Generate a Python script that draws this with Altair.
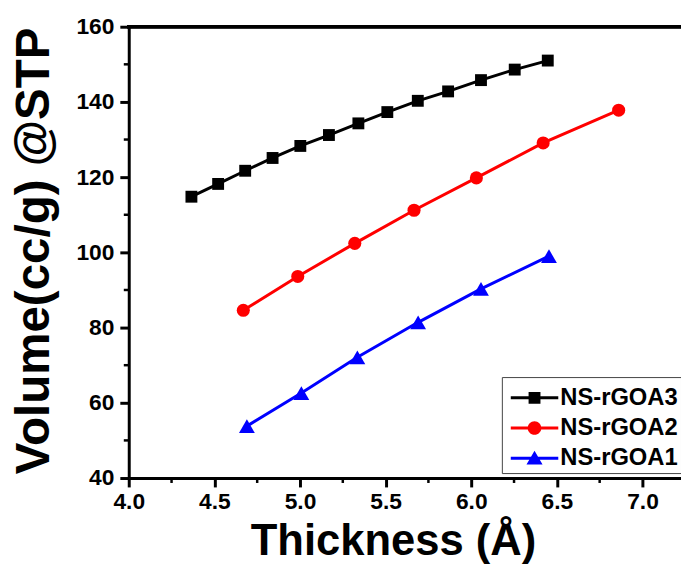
import altair as alt
import pandas as pd

# ---------------- data ----------------
series_names = ["NS-rGOA3", "NS-rGOA2", "NS-rGOA1"]
series_colors = ["#000000", "#ff0000", "#0000ff"]
series_shapes = ["square", "circle", "triangle-up"]
series_sizes = [144, 175, 256]

x_goa3 = [4.366, 4.522, 4.680, 4.840, 5.002, 5.169, 5.341, 5.510, 5.688, 5.865, 6.057, 6.254, 6.447]
y_goa3 = [114.8, 118.2, 121.7, 125.1, 128.3, 131.2, 134.3, 137.3, 140.3, 142.8, 145.8, 148.6, 151.0]

x_goa2 = [4.669, 4.987, 5.320, 5.666, 6.030, 6.420, 6.861]
y_goa2 = [84.6, 93.6, 102.4, 111.2, 119.8, 129.1, 137.8]

x_goa1 = [4.690, 5.008, 5.335, 5.690, 6.057, 6.454]
y_goa1 = [53.8, 62.6, 72.1, 81.4, 90.3, 99.0]

x_ticks = [4.0, 4.5, 5.0, 5.5, 6.0, 6.5, 7.0]
x_minor = [4.25, 4.75, 5.25, 5.75, 6.25, 6.75]
y_ticks = [40, 60, 80, 100, 120, 140, 160]
y_minor = [50, 70, 90, 110, 130, 150]

x_domain = [4.0, 7.225]
y_domain = [40, 160]

# legend symbols: line segment + marker (custom SVG paths)
legend_paths = [
    "M-4,-0.25H4V0.25H-4Z M-1,-1H1V1H-1Z",
    "M-4,-0.25H4V0.25H-4Z M-1.15,0A1.15,1.15,0,1,1,1.15,0A1.15,1.15,0,1,1,-1.15,0Z",
    "M-4,-0.25H4V0.25H-4Z M0,-1.25L1.35,1.05L-1.35,1.05Z",
]

# ---------------- tables ----------------
xs_all = [x_goa3, x_goa2, x_goa1]
ys_all = [y_goa3, y_goa2, y_goa1]
rows = []
for name, xs, ys in zip(series_names, xs_all, ys_all):
    for i, (xv, yv) in enumerate(zip(xs, ys)):
        rows.append({"series": name, "thickness": xv, "volume": yv, "order": i})
df = pd.DataFrame(rows)

df_xminor = pd.DataFrame({"v": x_minor})
df_yminor = pd.DataFrame({"v": y_minor})

W, H = 558, 456
FONT = "Liberation Sans"

x_scale = alt.Scale(domain=x_domain, nice=False, zero=False)
y_scale = alt.Scale(domain=y_domain, nice=False, zero=False)
color_scale = alt.Scale(domain=series_names, range=series_colors)

x_axis = alt.Axis(
    values=x_ticks, format=".1f", title="Thickness (Å)", grid=False,
    domainColor="black", domainWidth=3, tickColor="black", tickWidth=3, tickSize=9,
    labelFont=FONT, labelFontSize=23, labelFontWeight="bold", labelColor="black",
    labelPadding=4, labelFlush=False, labelOverlap=False,
    titleFont=FONT, titleFontSize=44, titleFontWeight="bold", titleColor="black",
    titleX=267, titleY=77, titleAlign="center", titleBaseline="alphabetic",
)
y_axis = alt.Axis(
    values=y_ticks, format="d", title="Volume(cc/g) @STP", grid=False,
    domainColor="black", domainWidth=3, tickColor="black", tickWidth=3, tickSize=9,
    labelFont=FONT, labelFontSize=23, labelFontWeight="bold", labelColor="black",
    labelPadding=6, labelFlush=False, labelOverlap=False,
    titleFont=FONT, titleFontSize=48, titleFontWeight="bold", titleColor="black",
    titleX=-81, titleY=226, titleAngle=270, titleAlign="center", titleBaseline="alphabetic",
)

base = alt.Chart(df)

line_layers = []
point_layers = []
for k, (name, col, shp, sz) in enumerate(zip(series_names, series_colors, series_shapes, series_sizes)):
    sub = base.transform_filter(alt.datum.series == name)
    if k == 0:
        enc = dict(
            x=alt.X("thickness:Q", scale=x_scale, axis=x_axis),
            y=alt.Y("volume:Q", scale=y_scale, axis=y_axis),
        )
    else:
        enc = dict(x="thickness:Q", y="volume:Q")
    line_layers.append(
        sub.mark_line(strokeWidth=3, color=col).encode(order="order:Q", **enc)
    )
    point_layers.append(
        sub.mark_point(filled=True, shape=shp, size=sz, color=col, opacity=1, strokeWidth=0)
        .encode(x="thickness:Q", y="volume:Q")
    )

legend_cfg = dict(
    title=" ", titleFontSize=1, titlePadding=5,
    orient="none", legendX=377, legendY=354,
    padding=3, strokeColor="#444444", fillColor="white",
    labelFont=FONT, labelFontSize=24, labelFontWeight="bold", labelColor="black",
    symbolSize=144, symbolOffset=18, labelOffset=14, rowPadding=6.5,
    symbolStrokeWidth=0, symbolOpacity=1,
)

legend_layer = base.mark_point(filled=True, size=0, strokeWidth=0, opacity=1).encode(
    x="thickness:Q",
    y="volume:Q",
    color=alt.Color("series:N", scale=color_scale, legend=alt.Legend(**legend_cfg)),
    shape=alt.Shape("series:N", scale=alt.Scale(domain=series_names, range=legend_paths),
                    legend=alt.Legend(**legend_cfg)),
)

x_minor_ticks = alt.Chart(df_xminor).mark_rule(color="black", strokeWidth=2.5).encode(
    x=alt.X("v:Q", scale=x_scale), y=alt.value(H), y2=alt.value(H + 5)
)
y_minor_ticks = alt.Chart(df_yminor).mark_rule(color="black", strokeWidth=2.5).encode(
    y=alt.Y("v:Q", scale=y_scale), x=alt.value(0), x2=alt.value(-5)
)
top_frame = alt.Chart(df_xminor).mark_rule(color="black", strokeWidth=3).encode(
    x=alt.value(-1.5), x2=alt.value(W), y=alt.value(0)
)

chart = alt.layer(
    top_frame, *line_layers, *point_layers, legend_layer, x_minor_ticks, y_minor_ticks
).properties(
    width=W, height=H,
    autosize=alt.AutoSizeParams(type="none"),
    padding={"left": 122, "top": 16, "right": 0, "bottom": 88},
).configure_view(stroke=None).configure(background="white")

chart.save("out.html", embed_options={"renderer": "svg", "actions": False})
